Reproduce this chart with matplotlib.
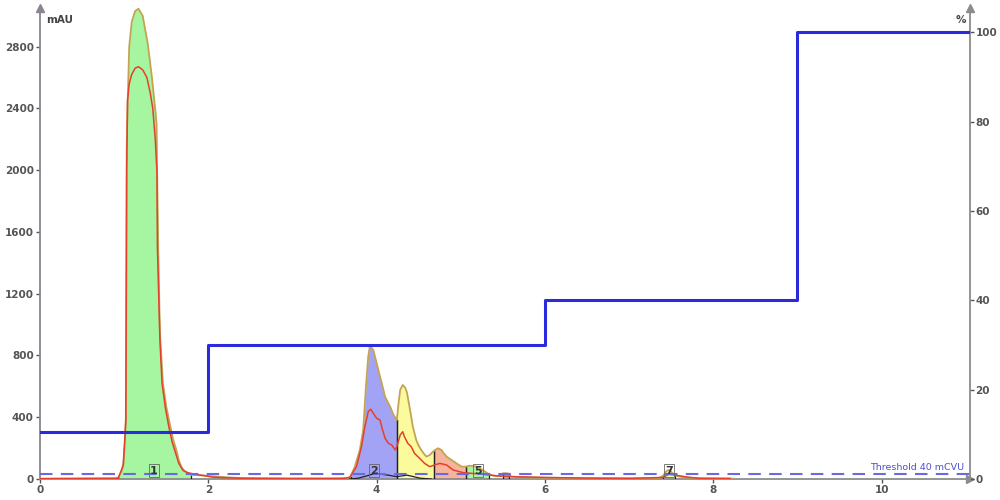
import numpy as np
import matplotlib
matplotlib.use('Agg')
import matplotlib.pyplot as plt

# UV trace (outer olive curve), time in min, signal in mAU
uv_t = [0.0, 0.90, 0.93, 0.97, 0.99, 1.01, 1.02, 1.025, 1.03, 1.04, 1.06, 1.09, 1.13, 1.17,
        1.22, 1.28, 1.33, 1.37, 1.385, 1.39, 1.405, 1.425, 1.46, 1.50, 1.54, 1.58, 1.62, 1.65,
        1.68, 1.72, 1.76, 1.80, 1.90, 2.0, 2.1, 2.25, 2.4, 2.6, 3.0, 3.5, 3.65, 3.69, 3.74,
        3.80, 3.84, 3.87, 3.90, 3.92, 3.96, 4.00, 4.04, 4.06, 4.10, 4.13, 4.16, 4.20, 4.24,
        4.26, 4.28, 4.31, 4.34, 4.36, 4.39, 4.43, 4.47, 4.50, 4.53, 4.56, 4.59, 4.63, 4.67,
        4.70, 4.73, 4.77, 4.80, 4.83, 4.89, 4.95, 5.01, 5.06, 5.10, 5.15, 5.20, 5.23, 5.29,
        5.33, 5.40, 5.48, 5.50, 5.53, 5.57, 5.60, 5.8, 6.0, 6.5, 7.0, 7.35, 7.40, 7.45, 7.48,
        7.52, 7.54, 7.60, 7.7, 7.84, 8.23]
uv_v = [2, 3, 10, 50, 100, 250, 400, 1200, 2130, 2400, 2800, 2960, 3030, 3045,
        3000, 2820, 2600, 2390, 2300, 2050, 1480, 946, 622, 470, 363, 260, 188, 120,
        78, 50, 39, 26, 24, 20, 16, 10, 6, 4, 3, 3, 5, 15, 80,
        188, 318, 577, 793, 862, 836, 750, 663, 622, 533, 500, 469, 415, 382,
        490, 577, 609, 590, 560, 469, 339, 253, 215, 188, 165, 145, 155, 177,
        190, 199, 188, 165, 145, 123, 101, 80, 80, 86, 84, 78, 69, 47,
        32, 20, 18, 37, 38, 35, 15, 10, 8, 5, 4, 5, 20, 55, 58,
        35, 25, 15, 8, 5, 3]

# second detector trace (red)
red_t = [0.0, 0.93, 0.99, 1.02, 1.03, 1.04, 1.06, 1.09, 1.13, 1.17, 1.22, 1.27, 1.31, 1.34,
         1.37, 1.39, 1.395, 1.41, 1.425, 1.45, 1.49, 1.53, 1.57, 1.61, 1.65, 1.70, 1.76,
         1.85, 1.95, 2.05, 2.2, 2.4, 3.0, 3.6, 3.68, 3.76, 3.82, 3.86, 3.90, 3.93, 3.96,
         4.00, 4.04, 4.07, 4.10, 4.14, 4.18, 4.22, 4.24, 4.28, 4.31, 4.33, 4.37, 4.41, 4.45,
         4.51, 4.57, 4.63, 4.69, 4.75, 4.83, 4.91, 5.03, 5.23, 5.42, 5.62, 6.0, 6.5, 7.0,
         7.4, 7.47, 7.55, 7.7, 7.84, 8.2]
red_v = [2, 5, 90, 380, 2000, 2450, 2560, 2620, 2660, 2670, 2650, 2600, 2500, 2400,
         2197, 1983, 1500, 1200, 900, 620, 460, 340, 240, 170, 100, 55, 40,
         30, 22, 12, 8, 5, 3, 4, 10, 80, 210, 339, 436, 452, 426,
         393, 382, 318, 264, 231, 220, 188, 210, 285, 306, 274, 231, 210, 166,
         134, 101, 80, 91, 101, 91, 58, 41, 32, 21, 15, 10, 6, 4,
         10, 30, 25, 12, 4, 3]

# small black trace near the baseline
blk_t = [3.68, 3.78, 3.88, 3.96, 4.00, 4.06, 4.14, 4.24, 4.30, 4.36, 4.44, 4.52, 4.65]
blk_v = [0, 5, 20, 33, 37, 30, 25, 15, 20, 25, 15, 5, 0]

# fractions
frac_start = [0.93, 3.69, 4.24, 4.68, 5.06, 5.50, 7.40]
frac_end = [1.80, 4.24, 4.68, 5.06, 5.33, 5.57, 7.54]
frac_colors = ['#a6f5a0', '#a3a3f5', '#fbfb9e', '#f7b49a', '#a6f5a0', '#b4a4e8', '#fbfb9e']
frac_labels = ['1', '2', '', '', '5', '', '7']
label_x = [1.35, 3.97, None, None, 5.20, None, 7.47]

# gradient (%B)
grad_t = [0, 2, 6, 9, 11.05]
grad_pct = [10.5, 30, 40, 100, 100]

threshold = 32

fig = plt.figure(figsize=(10, 5), dpi=100)
ax = fig.add_axes([0.04, 0.042, 0.93, 0.942])
ax.set_xlim(0, 11.05)
ax.set_ylim(0, 3050)

t = np.asarray(uv_t)
v = np.asarray(uv_v)


def segment(a, b):
    m = (t > a) & (t < b)
    xs = np.concatenate([[a], t[m], [b]])
    ys = np.concatenate([[np.interp(a, t, v)], v[m], [np.interp(b, t, v)]])
    return xs, ys


for a, b, c in zip(frac_start, frac_end, frac_colors):
    xs, ys = segment(a, b)
    ax.fill_between(xs, 0, ys, color=c, lw=0, zorder=1)
    for edge in (a, b):
        ax.plot([edge, edge], [0, np.interp(edge, t, v)], color='#222222', lw=0.9, zorder=3)

ax.plot(uv_t, uv_v, color='#c4a452', lw=1.3, zorder=4)
ax.plot(red_t, red_v, color='#e4402c', lw=1.1, zorder=5)
ax.plot(blk_t, blk_v, color='#222222', lw=0.9, zorder=5)

ax.axhline(threshold, color='#6a6ae0', lw=1.5, ls=(0, (6, 4)), zorder=6)
ax.text(10.98, threshold + 14, 'Threshold 40 mCVU', color='#5050d0', fontsize=6.8,
        ha='right', va='bottom', zorder=7)

for lab, lx in zip(frac_labels, label_x):
    if lab:
        ax.text(lx, 22, lab, fontsize=8, fontweight='bold', color='#333333',
                ha='center', va='bottom', zorder=8,
                bbox=dict(boxstyle='square,pad=0.1', fc='none', ec='#666666', lw=0.6))

axis_col = '#8c8490'
for s in ['top', 'right']:
    ax.spines[s].set_visible(False)
ax.spines['left'].set_color(axis_col)
ax.spines['bottom'].set_color('#8c8c8c')
ax.spines['left'].set_linewidth(1.3)
ax.spines['bottom'].set_linewidth(1.3)
ax.set_yticks(np.arange(0, 2801, 400))
ax.set_xticks(np.arange(0, 11, 2))
ax.tick_params(axis='both', labelsize=7.5, colors='#555555', length=3, width=1, pad=1.5)
for lbl in ax.get_xticklabels() + ax.get_yticklabels():
    lbl.set_fontweight('bold')
ax.plot([0], [1], marker='^', color=axis_col, ms=6, transform=ax.transAxes, clip_on=False)
ax.plot([1], [0], marker='>', color='#8c8c8c', ms=6, transform=ax.transAxes, clip_on=False)
ax.text(0.007, 0.975, 'mAU', transform=ax.transAxes, fontsize=7.5, fontweight='bold',
        color='#444444', ha='left', va='center')

ax2 = ax.twinx()
ax2.set_ylim(0, 105.4)
ax2.step(grad_t, grad_pct, where='post', color='#2b2bdd', lw=2.2, zorder=9)
for s in ['top', 'left', 'bottom']:
    ax2.spines[s].set_visible(False)
ax2.spines['right'].set_color('#8c8c8c')
ax2.spines['right'].set_linewidth(1.3)
ax2.set_yticks(np.arange(0, 101, 20))
ax2.tick_params(axis='y', labelsize=7.5, colors='#555555', length=3, width=1, pad=1)
for lbl in ax2.get_yticklabels():
    lbl.set_fontweight('bold')
ax2.plot([1], [1], marker='^', color='#8c8c8c', ms=6, transform=ax2.transAxes, clip_on=False)
ax2.text(0.99, 0.975, '%', transform=ax2.transAxes, fontsize=7.5, fontweight='bold',
         color='#444444', ha='center', va='center')

fig.savefig('out.png', dpi=100)
